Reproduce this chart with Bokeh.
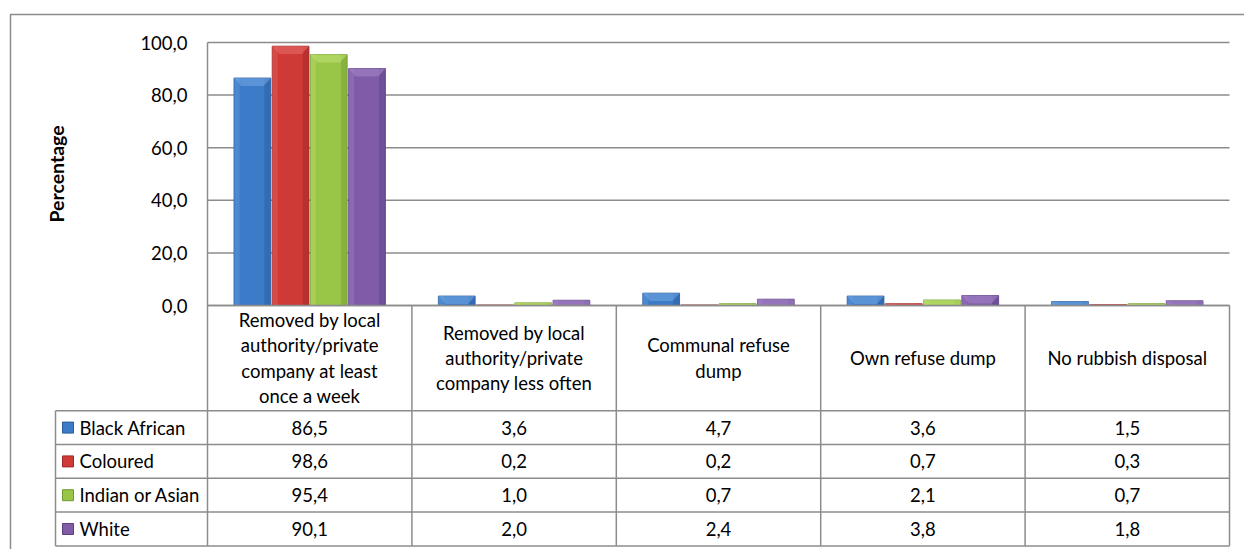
from bokeh.plotting import figure
from bokeh.models import Range1d
from bokeh.core.properties import value
from bokeh.embed import file_html
from bokeh.resources import INLINE

# ---------------- data ----------------
categories = [
    "Removed by local\nauthority/private\ncompany at least\nonce a week",
    "Removed by local\nauthority/private\ncompany less often",
    "Communal refuse\ndump",
    "Own refuse dump",
    "No rubbish disposal",
]
series_names = ["Black African", "Coloured", "Indian or Asian", "White"]
black_african = [86.5, 3.6, 4.7, 3.6, 1.5]
coloured = [98.6, 0.2, 0.2, 0.7, 0.3]
indian_or_asian = [95.4, 1.0, 0.7, 2.1, 0.7]
white = [90.1, 2.0, 2.4, 3.8, 1.8]
y_ticks = [0, 20, 40, 60, 80, 100]
y_title = "Percentage"

series_values = [black_african, coloured, indian_or_asian, white]
colors = ["#3B7BC8", "#CF3A37", "#9AC648", "#7F5BA8"]
dark = ["#2A5C9A", "#9E2826", "#729A32", "#5C3F82"]
light = ["#6FA3E0", "#E46A66", "#BCE070", "#A586C8"]

# ---------------- scales (pixels per data unit) ----------------
W, H = 1244, 549
PXX, X0 = 204.4, 207.0      # x: one category = 1 unit
PXY, Y0 = 2.63, 305.0       # y: percentage units


def xs(px):
    return (px - X0) / PXX


def ys(py):
    return (Y0 - py) / PXY


p = figure(width=W, height=H, output_backend="svg", toolbar_location=None,
           x_range=Range1d(xs(0), xs(W)), y_range=Range1d(ys(H), ys(0)),
           x_axis_type=None, y_axis_type=None, min_border=0)
p.outline_line_color = None
p.background_fill_color = "white"
p.border_fill_color = "white"

FONT = value("Lato")
GRID = "#8C8C8C"
n = len(categories)

# outer chart border
p.line(x=[xs(10), xs(10), xs(W + 20)], y=[ys(H + 20), ys(14), ys(14)],
       line_color=GRID, line_width=1.5)

# gridlines
p.segment(x0=[0] * len(y_ticks), x1=[n] * len(y_ticks), y0=y_ticks, y1=y_ticks,
          line_color=GRID, line_width=1.5)

# table geometry (in data units)
header_h = 40.0
row_h = 12.85
table_bottom = -header_h - row_h * len(series_names)
legend_left = xs(55)

# bars
bw = 0.18
step = 0.187
for j, vals in enumerate(series_values):
    off = (j - 1.5) * step
    xc = [i + 0.5 + off for i in range(n)]
    p.vbar(x=xc, top=vals, bottom=0, width=bw, fill_color=colors[j],
           line_color=dark[j], line_width=0.8)
    # bevel: darker right edge, lighter left edge, lighter top cap
    p.vbar(x=[x + bw / 2 - 0.016 for x in xc], top=vals, bottom=0, width=0.03,
           fill_color=dark[j], fill_alpha=0.45, line_color=None)
    p.vbar(x=[x - bw / 2 + 0.014 for x in xc], top=vals, bottom=0, width=0.026,
           fill_color=light[j], fill_alpha=0.35, line_color=None)
    caps_x, caps_y = [], []
    for x, v in zip(xc, vals):
        h = min(v, 3.0)
        d = 0.035 if v >= 3 else 0.0
        caps_x.append([x - bw / 2, x + bw / 2, x + bw / 2 - d, x - bw / 2 + d])
        caps_y.append([v, v, v - h, v - h])
    p.patches(xs=caps_x, ys=caps_y, fill_color=light[j], fill_alpha=0.6,
              line_color=None)

# axis line + table vertical lines
p.segment(x0=list(range(n + 1)), x1=list(range(n + 1)),
          y0=[100] + [0] * n, y1=[table_bottom] * (n + 1),
          line_color=GRID, line_width=1.5)
p.segment(x0=[0], x1=[n], y0=[0], y1=[0], line_color=GRID, line_width=1.5)
p.segment(x0=[legend_left], x1=[legend_left], y0=[-header_h], y1=[table_bottom],
          line_color=GRID, line_width=1.5)
row_lines = [-header_h - row_h * r for r in range(len(series_names) + 1)]
p.segment(x0=[legend_left] * len(row_lines), x1=[n] * len(row_lines),
          y0=row_lines, y1=row_lines, line_color=GRID, line_width=1.5)

# y tick labels
p.text(x=[xs(187)] * len(y_ticks), y=y_ticks,
       text=[f"{t:.1f}".replace(".", ",") for t in y_ticks],
       text_align="right", text_baseline="middle", text_font=FONT,
       text_font_size="18.5px", text_color="#000000")

# y title
p.text(x=[xs(56)], y=[50], text=[y_title], angle=1.5708, text_align="center",
       text_baseline="middle", text_font=FONT, text_font_size="19.5px",
       text_font_style="bold", text_color="#000000")

# category headers
p.text(x=[i + 0.5 for i in range(n)], y=[-header_h / 2] * n, text=categories,
       text_align="center", text_baseline="middle", text_font=FONT,
       text_font_size="18.5px", text_line_height=1.15, text_color="#000000")

# table rows
for r, (name, vals) in enumerate(zip(series_names, series_values)):
    yc = -header_h - row_h * (r + 0.5)
    p.rect(x=[xs(67.5)], y=[yc], width=11, height=11, width_units="screen",
           height_units="screen", fill_color=colors[r], line_color=dark[r])
    p.text(x=[xs(79)], y=[yc], text=[name], text_align="left",
           text_baseline="middle", text_font=FONT, text_font_size="18.5px",
           text_color="#000000")
    p.text(x=[i + 0.5 for i in range(n)], y=[yc] * n,
           text=[f"{v:.1f}".replace(".", ",") for v in vals],
           text_align="center", text_baseline="middle", text_font=FONT,
           text_font_size="18.5px", text_color="#000000")

open("out.html", "w").write(file_html(p, INLINE))
